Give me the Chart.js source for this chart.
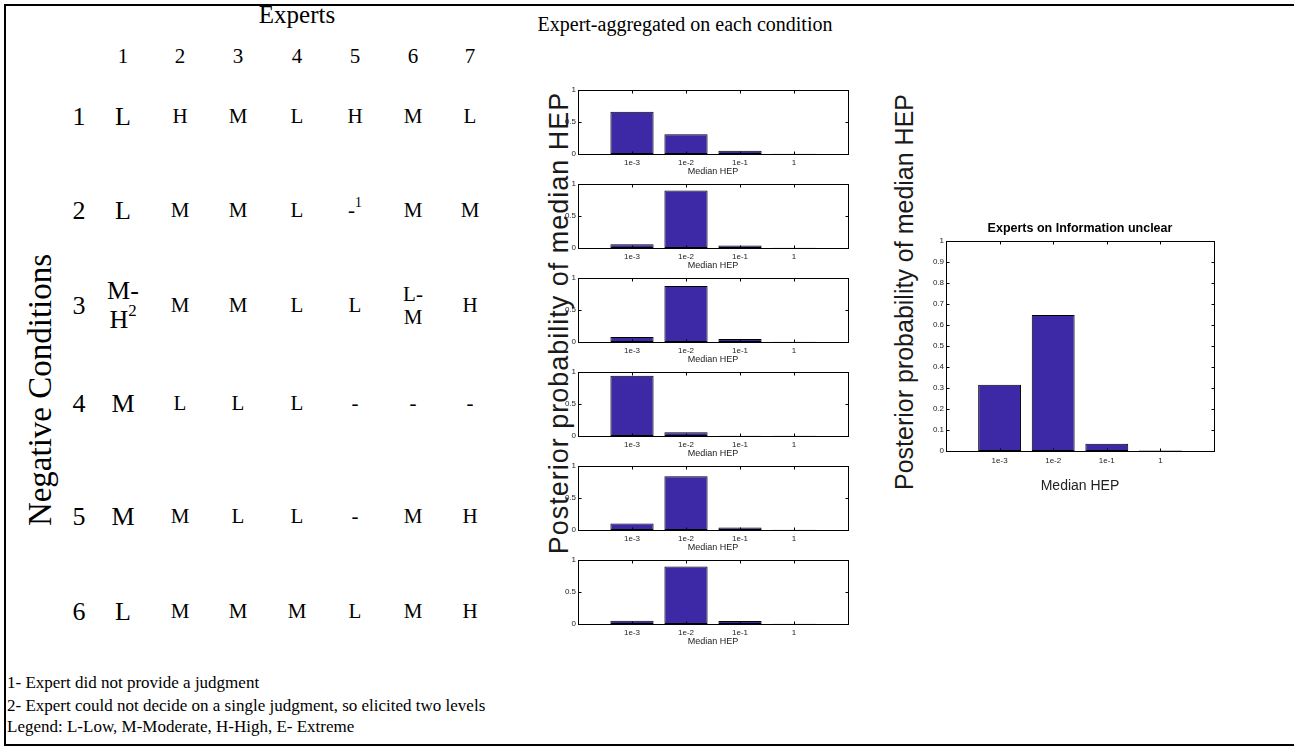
<!DOCTYPE html>
<html>
<head>
<meta charset="utf-8">
<script src="https://cdn.jsdelivr.net/npm/chart.js@4.4.1/dist/chart.umd.min.js"></script>
<style>
  html, body { margin: 0; padding: 0; background: #fff; }
  #page { position: relative; width: 1294px; height: 746px; overflow: hidden;
          font-family: 'Liberation Serif', 'Times New Roman', serif; color: #000; }
  #box { position: absolute; left: 4px; top: 4px; width: 1290px; height: 742px; box-sizing: border-box;
         border-left: 2px solid #000; border-top: 2px solid #000; border-bottom: 2px solid #000; }
  .t { position: absolute; transform: translate(-50%, -50%); white-space: nowrap; line-height: 1.1; text-align: center; }
  .rot { transform: translate(-50%, -50%) rotate(-90deg); }
  .sans { font-family: 'Liberation Sans', Arial, sans-serif; color: #1a1a1a; }
  .note { position: absolute; left: 7px; font-size: 17px; transform: translateY(-50%); white-space: nowrap; }
  sup { font-size: 0.65em; line-height: 0; vertical-align: 0.75em; }
  canvas { position: absolute; }
</style>
</head>
<body>
<div id="page"><div id="box"></div></div>
<script>
// ─── Data ─────────────────────────────────────────────────
const experts    = ['1', '2', '3', '4', '5', '6', '7'];
const conditions = ['1', '2', '3', '4', '5', '6'];
// '/' = line break, '^' = superscript footnote
const ratings = [
    ['L',      'H', 'M', 'L', 'H',   'M',    'L'],
    ['L',      'M', 'M', 'L', '-^1', 'M',    'M'],
    ['M-/H^2', 'M', 'M', 'L', 'L',   'L-/M', 'H'],
    ['M',      'L', 'L', 'L', '-',   '-',    '-'],
    ['M',      'M', 'L', 'L', '-',   'M',    'H'],
    ['L',      'M', 'M', 'M', 'L',   'M',    'H'],
];
const footnotes = [
    '1- Expert did not provide a judgment',
    '2- Expert could not decide on a single judgment, so elicited two levels',
    'Legend: L-Low, M-Moderate, H-High, E- Extreme',
];

const hepLevels = ['1e-3', '1e-2', '1e-1', '1'];
const cond1 = [0.66, 0.31, 0.05, 0.004];
const cond2 = [0.06, 0.90, 0.04, 0.003];
const cond3 = [0.08, 0.875, 0.045, 0.004];
const cond4 = [0.94, 0.06, 0.004, 0.002];
const cond5 = [0.10, 0.84, 0.04, 0.003];
const cond6 = [0.05, 0.90, 0.045, 0.003];
const infoUnclear = [0.315, 0.648, 0.034, 0.002];

// ─── Layout ───────────────────────────────────────────────
const page = document.getElementById('page');
const colX = [123, 180, 238, 297, 355, 413, 470];
const rowY = [117, 211, 306, 404, 517, 612];
const BAR  = '#3d28a6';
const SANS = "'Liberation Sans', Arial, sans-serif";

function addText(html, x, y, cls, style) {
    const d = document.createElement('div');
    d.className = 't ' + (cls || '');
    d.innerHTML = html;
    d.style.left = x + 'px';
    d.style.top  = y + 'px';
    if (style) Object.assign(d.style, style);
    page.appendChild(d);
    return d;
}
function cellHtml(s) {
    return s.split('/').map(p => p.replace(/\^(\w)/, '<sup>$1</sup>')).join('<br>');
}

// ─── Table ────────────────────────────────────────────────
addText('Experts', 297, 15, '', { fontSize: '25px' });
experts.forEach((e, i) => addText(e, colX[i], 57, '', { fontSize: '21px' }));
conditions.forEach((c, r) => {
    addText(c, 79, rowY[r], '', { fontSize: '26px' });
    ratings[r].forEach((v, i) => {
        addText(cellHtml(v), colX[i], rowY[r], '', { fontSize: i === 0 ? '26px' : '21px' });
    });
});
addText('Negative Conditions', 40, 390, 'rot', { fontSize: '33px' });

footnotes.forEach((f, i) => {
    const d = document.createElement('div');
    d.className = 'note';
    d.textContent = f;
    d.style.top = [683, 706, 727][i] + 'px';
    page.appendChild(d);
});

addText('Expert-aggregated on each condition', 685, 24, '', { fontSize: '20px' });
addText('Posterior probability of median HEP', 560, 323, 'rot sans', { fontSize: '27px', letterSpacing: '1px' });
addText('Posterior probability of median HEP', 905, 292, 'rot sans', { fontSize: '25px' });

// ─── Charts ───────────────────────────────────────────────
const framePlugin = {
    id: 'frame',
    afterDatasetsDraw(chart) {
        const { ctx, chartArea: a, scales: { x, y } } = chart;
        const L = Math.round(a.left) + 0.5, R = Math.round(a.right) + 0.5;
        const T = Math.round(a.top) + 0.5,  B = Math.round(a.bottom) + 0.5;
        ctx.save();
        ctx.strokeStyle = '#000';
        ctx.lineWidth = 1;
        ctx.strokeRect(L, T, R - L, B - T);
        ctx.beginPath();
        x.ticks.forEach(tk => {
            const px = Math.round(x.getPixelForValue(tk.value)) + 0.5;
            ctx.moveTo(px, T); ctx.lineTo(px, T + 3);
            ctx.moveTo(px, B); ctx.lineTo(px, B - 3);
        });
        y.ticks.forEach(tk => {
            const py = Math.round(y.getPixelForValue(tk.value)) + 0.5;
            ctx.moveTo(L, py); ctx.lineTo(L + 3, py);
            ctx.moveTo(R, py); ctx.lineTo(R - 3, py);
        });
        ctx.stroke();
        ctx.restore();
    }
};

function hepChart(values, area, cfg) {
    const W = cfg.axisW + area.width + 4;
    const H = cfg.padTop + area.height + cfg.axisH;
    const cv = document.createElement('canvas');
    cv.width = W; cv.height = H;
    cv.style.width = W + 'px'; cv.style.height = H + 'px';
    cv.style.left = (area.left - cfg.axisW) + 'px';
    cv.style.top  = (area.top - cfg.padTop) + 'px';
    page.appendChild(cv);

    const titleLH = cfg.title ? cfg.titleSize * 1.2 : 0;
    const chart = new Chart(cv, {
        type: 'bar',
        data: {
            datasets: [{
                data: values.map((v, i) => ({ x: i + 1, y: v })),
                backgroundColor: BAR,
                borderColor: '#000',
                borderWidth: 1,
                borderSkipped: false,
                barPercentage: 1,
                categoryPercentage: 0.8,
            }]
        },
        options: {
            responsive: false,
            animation: false,
            devicePixelRatio: 1,
            layout: { autoPadding: false, padding: { left: 0, right: 4, top: cfg.title ? 2 : cfg.padTop, bottom: 0 } },
            plugins: {
                legend: { display: false },
                tooltip: { enabled: false },
                title: {
                    display: !!cfg.title,
                    text: cfg.title || '',
                    fullSize: false,
                    color: '#000',
                    font: { family: SANS, size: cfg.titleSize || 11, weight: 'bold' },
                    padding: { top: 0, bottom: Math.max(cfg.padTop - 2 - titleLH, 0) },
                },
            },
            scales: {
                x: {
                    type: 'linear', min: 0, max: 5, offset: false,
                    grid: { display: false, drawTicks: false },
                    border: { display: false },
                    afterBuildTicks: s => { s.ticks = s.ticks.filter(t => t.value >= 1 && t.value <= 4); },
                    afterFit: s => { s.height = cfg.axisH; },
                    ticks: {
                        stepSize: 1, padding: cfg.tickPad, color: '#222', maxRotation: 0,
                        font: { family: SANS, size: 8 },
                        callback: v => hepLevels[v - 1],
                    },
                    title: {
                        display: true, text: 'Median HEP', color: '#222',
                        font: { family: SANS, size: cfg.xTitleSize },
                        padding: { top: 0, bottom: 0 },
                    },
                },
                y: {
                    min: 0, max: 1,
                    grid: { display: false, drawTicks: false },
                    border: { display: false },
                    afterFit: s => { s.width = cfg.axisW; },
                    ticks: {
                        stepSize: cfg.yStep, padding: 2, color: '#222',
                        font: { family: SANS, size: 8 },
                        callback: v => String(+v.toFixed(2)),
                    },
                },
            },
        },
        plugins: [framePlugin],
    });

    // put the plot area exactly on the target box
    const a = chart.chartArea;
    cv.style.left = (area.left - a.left) + 'px';
    cv.style.top  = (area.top - a.top) + 'px';
    return chart;
}

const smallCfg = { axisW: 30, padTop: 8, axisH: 23, tickPad: 4, xTitleSize: 9, yStep: 0.5 };
[cond1, cond2, cond3, cond4, cond5, cond6].forEach((vals, k) => {
    hepChart(vals, { left: 578, top: 90 + 94 * k, width: 270, height: 64 }, smallCfg);
});

hepChart(infoUnclear, { left: 946, top: 241, width: 268, height: 210 },
    { axisW: 30, padTop: 22, axisH: 44, tickPad: 5, xTitleSize: 14, yStep: 0.1,
      title: 'Experts on Information unclear', titleSize: 12.5 });
</script>
</body>
</html>
